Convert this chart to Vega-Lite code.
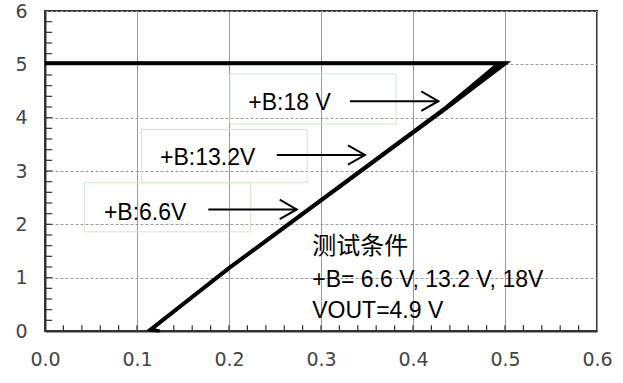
{
  "$schema": "https://vega.github.io/schema/vega-lite/v6.json",
  "width": 552,
  "height": 320,
  "autosize": {"type": "none"},
  "padding": {"left": 45, "top": 11, "right": 26, "bottom": 52},
  "config": {
    "view": {"stroke": "#333333", "strokeWidth": 2},
    "axis": {
      "domainColor": "#333333",
      "domainWidth": 2,
      "labelFont": "DejaVu Sans",
      "labelFontSize": 19,
      "labelColor": "#444444",
      "title": null
    }
  },
  "layer": [
    {
      "data": {"values": [
        {"x1": 0.201, "x2": 0.3815, "y1": 3.88, "y2": 4.82},
        {"x1": 0.105, "x2": 0.285, "y1": 2.78, "y2": 3.78},
        {"x1": 0.0427, "x2": 0.2236, "y1": 1.86, "y2": 2.78}
      ]},
      "mark": {"type": "rect", "fill": null, "stroke": "#cde8cd", "strokeWidth": 1},
      "encoding": {
        "x": {"field": "x1", "type": "quantitative", "scale": {"domain": [0, 0.6], "nice": false, "zero": false},
          "axis": {
            "values": [0, 0.1, 0.2, 0.3, 0.4, 0.5, 0.6],
            "tickCount": 200,
            "format": ".1f",
            "grid": true,
            "gridColor": "#999999",
            "gridWidth": 1,
            "ticks": false,
            "labelPadding": 19,
            "labelFlush": false,
            "labelOverlap": false
          }
        },
        "x2": {"field": "x2"},
        "y": {"field": "y1", "type": "quantitative", "scale": {"domain": [0, 6], "nice": false, "zero": false},
          "axis": {
            "values": [0, 1, 2, 3, 4, 5, 6],
            "tickCount": 200,
            "format": "d",
            "grid": true,
            "gridColor": "#999999",
            "gridWidth": 1,
            "gridDash": [3, 2],
            "ticks": false,
            "labelPadding": 18,
            "labelFlush": false,
            "labelOverlap": false
          }
        },
        "y2": {"field": "y2"}
      }
    },
    {
      "data": {"values": [
        {"v": 0.02, "b": 0}, {"v": 0.04, "b": 0}, {"v": 0.06, "b": 0}, {"v": 0.08, "b": 0}, {"v": 0.1, "b": 0},
        {"v": 0.12, "b": 0}, {"v": 0.14, "b": 0}, {"v": 0.16, "b": 0}, {"v": 0.18, "b": 0}, {"v": 0.2, "b": 0},
        {"v": 0.22, "b": 0}, {"v": 0.24, "b": 0}, {"v": 0.26, "b": 0}, {"v": 0.28, "b": 0}, {"v": 0.3, "b": 0},
        {"v": 0.32, "b": 0}, {"v": 0.34, "b": 0}, {"v": 0.36, "b": 0}, {"v": 0.38, "b": 0}, {"v": 0.4, "b": 0},
        {"v": 0.42, "b": 0}, {"v": 0.44, "b": 0}, {"v": 0.46, "b": 0}, {"v": 0.48, "b": 0}, {"v": 0.5, "b": 0},
        {"v": 0.52, "b": 0}, {"v": 0.54, "b": 0}, {"v": 0.56, "b": 0}, {"v": 0.58, "b": 0}
      ]},
      "mark": {"type": "rule", "color": "#333333", "strokeWidth": 1.2, "opacity": 1},
      "encoding": {
        "x": {"field": "v", "type": "quantitative"},
        "y": {"field": "b", "type": "quantitative"},
        "y2": {"datum": 0.11}
      }
    },
    {
      "data": {"values": [
        {"v": 0.2, "b": 0}, {"v": 0.4, "b": 0}, {"v": 0.6, "b": 0}, {"v": 0.8, "b": 0}, {"v": 1, "b": 0},
        {"v": 1.2, "b": 0}, {"v": 1.4, "b": 0}, {"v": 1.6, "b": 0}, {"v": 1.8, "b": 0}, {"v": 2, "b": 0},
        {"v": 2.2, "b": 0}, {"v": 2.4, "b": 0}, {"v": 2.6, "b": 0}, {"v": 2.8, "b": 0}, {"v": 3, "b": 0},
        {"v": 3.2, "b": 0}, {"v": 3.4, "b": 0}, {"v": 3.6, "b": 0}, {"v": 3.8, "b": 0}, {"v": 4, "b": 0},
        {"v": 4.2, "b": 0}, {"v": 4.4, "b": 0}, {"v": 4.6, "b": 0}, {"v": 4.8, "b": 0}, {"v": 5, "b": 0},
        {"v": 5.2, "b": 0}, {"v": 5.4, "b": 0}, {"v": 5.6, "b": 0}, {"v": 5.8, "b": 0}
      ]},
      "mark": {"type": "rule", "color": "#333333", "strokeWidth": 1.2, "opacity": 1},
      "encoding": {
        "y": {"field": "v", "type": "quantitative"},
        "x": {"field": "b", "type": "quantitative"},
        "x2": {"datum": 0.0078}
      }
    },
    {
      "data": {"values": [
        {"s": "a", "o": 1, "x": 0, "y": 5.03},
        {"s": "a", "o": 2, "x": 0.502, "y": 5.03},
        {"s": "a", "o": 3, "x": 0.44, "y": 4.22},
        {"s": "a", "o": 4, "x": 0.201, "y": 1.18},
        {"s": "a", "o": 5, "x": 0.116, "y": 0.03},
        {"s": "a", "o": 6, "x": 0.125, "y": 0.0},
        {"s": "b", "o": 1, "x": 0, "y": 5.02},
        {"s": "b", "o": 2, "x": 0.497, "y": 5.02},
        {"s": "b", "o": 3, "x": 0.438, "y": 4.2},
        {"s": "b", "o": 4, "x": 0.199, "y": 1.17},
        {"s": "b", "o": 5, "x": 0.115, "y": 0.02},
        {"s": "b", "o": 6, "x": 0.123, "y": 0.0},
        {"s": "c", "o": 1, "x": 0, "y": 5.01},
        {"s": "c", "o": 2, "x": 0.492, "y": 5.01},
        {"s": "c", "o": 3, "x": 0.436, "y": 4.2},
        {"s": "c", "o": 4, "x": 0.2, "y": 1.19},
        {"s": "c", "o": 5, "x": 0.114, "y": 0.03},
        {"s": "c", "o": 6, "x": 0.122, "y": 0.01}
      ]},
      "mark": {"type": "line", "color": "#000000", "strokeWidth": 3, "strokeJoin": "miter"},
      "encoding": {
        "x": {"field": "x", "type": "quantitative"},
        "y": {"field": "y", "type": "quantitative"},
        "detail": {"field": "s"},
        "order": {"field": "o", "type": "quantitative"}
      }
    },
    {
      "data": {"values": [
        {"x1": 0.3315, "x2": 0.4275, "y": 4.31},
        {"x1": 0.2519, "x2": 0.3478, "y": 3.3},
        {"x1": 0.1775, "x2": 0.2736, "y": 2.28}
      ]},
      "layer": [
        {
          "mark": {"type": "rule", "color": "#000000", "strokeWidth": 2},
          "encoding": {
            "x": {"field": "x1", "type": "quantitative"},
            "x2": {"field": "x2"},
            "y": {"field": "y", "type": "quantitative"}
          }
        },
        {
          "mark": {"type": "point", "shape": "M-1,-0.57L0,0L-1,0.57", "size": 1156, "filled": false, "stroke": "#000000", "strokeWidth": 2, "opacity": 1},
          "encoding": {
            "x": {"field": "x2", "type": "quantitative"},
            "y": {"field": "y", "type": "quantitative"}
          }
        }
      ]
    },
    {
      "data": {"values": [
        {"t": "+B:18 V", "x": 0.221, "y": 4.14},
        {"t": "+B:13.2V", "x": 0.125, "y": 3.11},
        {"t": "+B:6.6V", "x": 0.064, "y": 2.09},
        {"t": "+B= 6.6 V, 13.2 V, 18V", "x": 0.2905, "y": 0.83},
        {"t": "VOUT=4.9 V", "x": 0.2905, "y": 0.24}
      ]},
      "mark": {"type": "text", "align": "left", "baseline": "alphabetic", "font": "Liberation Sans", "fontSize": 23, "color": "#000000"},
      "encoding": {
        "x": {"field": "x", "type": "quantitative"},
        "y": {"field": "y", "type": "quantitative"},
        "text": {"field": "t"}
      }
    },
    {
      "data": {"values": [
        {"t": "测试条件", "x": 0.2905, "y": 1.44}
      ]},
      "mark": {"type": "text", "align": "left", "baseline": "alphabetic", "font": "Noto Sans CJK SC", "fontSize": 24, "color": "#000000"},
      "encoding": {
        "x": {"field": "x", "type": "quantitative"},
        "y": {"field": "y", "type": "quantitative"},
        "text": {"field": "t"}
      }
    }
  ]
}
